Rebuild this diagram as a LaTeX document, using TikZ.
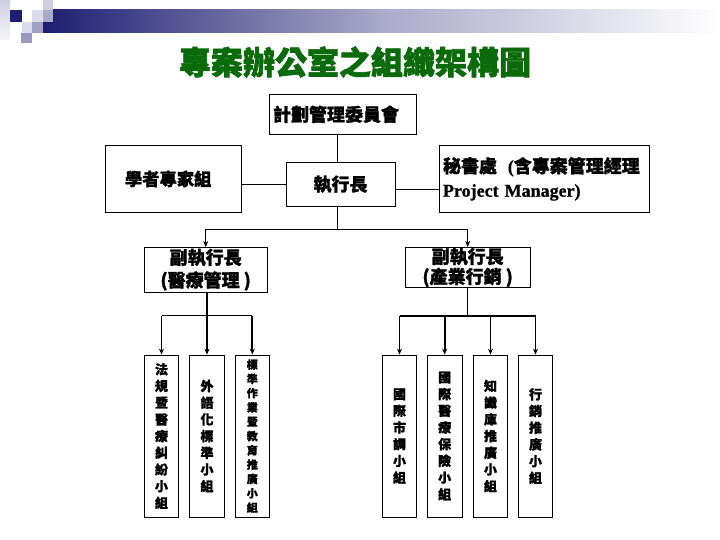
\documentclass[tikz,border=0pt]{standalone}
\usepackage{fontspec}
\newfontfamily\cjk{Noto Sans CJK TC}[BoldFeatures={FakeBold=1.2}]
\newfontfamily\cjkt{Noto Sans CJK TC}[BoldFeatures={FakeBold=2}]
\newfontfamily\ser{Liberation Serif}[BoldFeatures={FakeBold=0.8}]
\usetikzlibrary{arrows.meta}
\definecolor{navy}{HTML}{1E1E72}
\definecolor{ttlgreen}{HTML}{0B6B0B}
\begin{document}
\begin{tikzpicture}[x=1pt,y=-1pt,
  box/.style={draw, line width=0.8pt, inner sep=0pt},
  f18/.style={font=\cjk\bfseries\fontsize{18}{24}\selectfont},
  thinln/.style={line width=0.8pt},
  midln/.style={line width=1.3pt},
  thickln/.style={line width=1.8pt},
  arr/.style={-{Stealth[length=6pt,width=5pt]}},
  vbox/.style={draw, line width=0.8pt, minimum width=34.5, minimum height=162, inner sep=0pt, align=center, font=\cjk\bfseries\fontsize{13}{16.7}\selectfont}]
\path[use as bounding box, fill=white] (0,0) rectangle (720,540);
% header decoration
\shade[left color=navy, right color=white, middle color=navy!38] (43,10) rectangle (720,33);
\shade[top color=navy!22, bottom color=navy!4] (0,0) rectangle (10,40);
\fill[navy] (10,10) rectangle (22,22);
\fill[navy!22] (43,0) rectangle (53,10);
\fill[navy!16] (32,10) rectangle (43,22);
\fill[navy!38] (43,10) rectangle (53,22);
\fill[navy!16] (22,22) rectangle (32,33);
\fill[navy!42] (32,22) rectangle (43,33);
\fill[navy!45] (21,33) rectangle (32,43);
% title
\node[font=\cjkt\bfseries\fontsize{32}{32}\selectfont, text=ttlgreen] (title) at (355,62) {專案辦公室之組織架構圖};
% top level
\node[box, f18, minimum width=147, minimum height=40, text width=139, align=left] (comm) at (342.5,114.3) {計劃管理委員會};
\node[box, font=\cjk\bfseries\fontsize{17.3}{24}\selectfont, minimum width=136.7, minimum height=67.7, text width=96.7, align=left] (sch) at (173.3,178.9) {學者專家組};
\node[box, f18, minimum width=109, minimum height=43.3] (ceo) at (340.5,184.3) {執行長};
\node[box, f18, minimum width=210, minimum height=67.7, text width=202, align=left] (sec) at (544,178.9) {秘書處\hspace{0.6em}{\ser\bfseries (}含專案管理經理\\{\ser\bfseries Project Manager)}};
\node[box, font=\cjk\bfseries\fontsize{18}{22.7}\selectfont, minimum width=123.3, minimum height=44.7, align=center] (vp1) at (205.7,269.7) {副執行長\\(醫療管理 )};
\node[box, font=\cjk\bfseries\fontsize{18}{20}\selectfont, minimum width=124.7, minimum height=40.4, align=center] (vp2) at (467.7,267.5) {副執行長\\(產業行銷 )};
% children
\node[vbox] (c1) at (161.5,436) {法\\規\\暨\\醫\\療\\糾\\紛\\小\\組};
\node[vbox] (c2) at (207,436) {外\\語\\化\\標\\準\\小\\組};
\node[vbox, font=\cjk\bfseries\fontsize{11}{14.3}\selectfont] (c3) at (252.3,436) {標\\準\\作\\業\\暨\\教\\育\\推\\廣\\小\\組};
\node[vbox] (d1) at (399.5,436) {國\\際\\市\\調\\小\\組};
\node[vbox] (d2) at (444.7,436) {國\\際\\醫\\療\\保\\險\\小\\組};
\node[vbox] (d3) at (490.5,436) {知\\識\\庫\\推\\廣\\小\\組};
\node[vbox] (d4) at (535.5,436) {行\\銷\\推\\廣\\小\\組};
% connectors top
\coordinate (hub) at (337,229.3);
\draw[thinln] (comm.south -| hub) -- (ceo.north -| hub);
\coordinate (sl) at (0,184);
\coordinate (sr) at (0,189);
\draw[thinln] (sch.east |- sl) -- (ceo.west |- sl);
\draw[thinln] (ceo.east |- sr) -- (sec.west |- sr);
\draw[thinln] (ceo.south -| hub) -- (hub);
\draw[midln] (vp1.north |- hub) -- (vp2.north |- hub);
\draw[thinln, arr] (vp1.north |- hub) -- (vp1.north);
\draw[thinln, arr] (vp2.north |- hub) -- (vp2.north);
% left branch
\coordinate (lh) at (207,315.7);
\draw[thickln, arr] (vp1.south -| c2.north) -- (c2.north);
\draw[midln] (c1.north |- lh) -- (c3.north |- lh);
\draw[midln, arr] (c1.north |- lh) -- (c1.north);
\draw[thickln, arr] (c3.north |- lh) -- (c3.north);
% right branch
\coordinate (rh) at (467.7,315.7);
\draw[thinln] (vp2.south) -- (rh);
\draw[thickln] (d1.north |- rh) -- (d4.north |- rh);
\draw[thickln, arr] (d1.north |- rh) -- (d1.north);
\draw[thickln, arr] (d2.north |- rh) -- (d2.north);
\draw[thinln, arr] (d3.north |- rh) -- (d3.north);
\draw[thickln, arr] (d4.north |- rh) -- (d4.north);
\end{tikzpicture}
\end{document}
